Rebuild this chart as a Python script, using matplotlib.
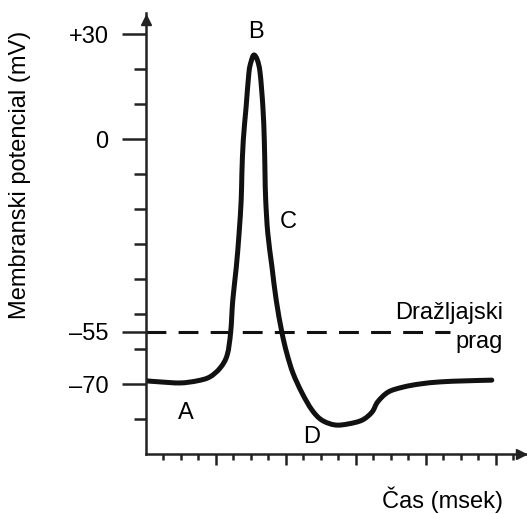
import matplotlib.pyplot as plt
import numpy as np
from matplotlib.path import Path
from matplotlib.patches import PathPatch

plt.rcParams['font.family'] = ['Liberation Sans', 'DejaVu Sans']

# ---- DATA ----
time_ms = [0.00, 0.20, 0.49, 0.73, 0.91, 1.06, 1.16, 1.21, 1.24, 1.29, 1.33, 1.36,
           1.37, 1.39, 1.43, 1.47, 1.50, 1.54, 1.59, 1.63, 1.67, 1.69, 1.70, 1.71,
           1.74, 1.80, 1.86, 1.94, 2.01, 2.10, 2.23, 2.37, 2.51, 2.70, 2.89, 3.09,
           3.23, 3.31, 3.46, 3.67, 3.91, 4.20, 4.56, 4.94]
potential_mv = [-69.1, -69.4, -69.7, -69.1, -68.0, -65.4, -61.7, -55.1, -46.0, -36.6,
                -26.9, -17.4, -9.7, -0.3, 9.1, 18.9, 22.0, 24.0, 22.6, 18.9, 9.1, -0.3,
                -9.7, -17.4, -26.9, -36.6, -46.0, -55.1, -61.1, -66.9, -72.6, -77.4,
                -80.3, -81.7, -81.4, -80.3, -78.0, -75.1, -72.3, -70.9, -70.0, -69.4,
                -69.1, -68.9]
threshold = -55
major_y = [30, 0, -55, -70]
major_y_labels = ['+30', '0', '\u201355', '\u201370']
minor_y = [20, 10, -10, -20, -30, -40, -50, -60, -80]
major_x = [1, 2, 3, 4, 5]
minor_x = [i * 0.25 for i in range(1, 22)]
phase_labels = ['A', 'B', 'C', 'D']
phase_pos = [(0.57, -78.3), (1.57, 30.6), (2.03, -23.7), (2.36, -85.1)]

XMAX, YMIN, YMAX = 5.443, -90, 36

fig = plt.figure(figsize=(5.27, 5.14), dpi=100)
ax = fig.add_axes([146 / 527, 60 / 514, 381 / 527, 441 / 514])
ax.set_xlim(0, XMAX)
ax.set_ylim(YMIN, YMAX)

for s in ['top', 'right']:
    ax.spines[s].set_visible(False)
for s in ['left', 'bottom']:
    ax.spines[s].set_linewidth(1.8)
    ax.spines[s].set_color('#222222')

# arrow heads
ax.plot(0, YMAX - 2.0, '^', color='#222222', ms=7, clip_on=False)
ax.plot(XMAX - 0.09, YMIN, '>', color='#222222', ms=7, clip_on=False)

# ticks
ax.set_yticks(major_y)
ax.set_yticklabels(major_y_labels, fontsize=17)
ax.set_yticks(minor_y, minor=True)
ax.tick_params(axis='y', which='major', length=17, width=1.8, color='#222222', pad=10)
ax.tick_params(axis='y', which='minor', length=9, width=1.8, color='#222222')
ax.set_xticks(major_x)
ax.set_xticklabels([])
ax.set_xticks([m for m in minor_x if m not in major_x], minor=True)
ax.tick_params(axis='x', which='major', length=8, width=1.8, color='#222222')
ax.tick_params(axis='x', which='minor', length=4, width=1.8, color='#222222')

# threshold
ax.plot([0, 4.35], [threshold, threshold], color='#111111', lw=2.2,
        linestyle=(0, (6.5, 4.0)))

# action potential, drawn as a smooth curve through the read-off points
pts = np.column_stack([time_ms, potential_mv])
verts = [pts[0]]
codes = [Path.MOVETO]
for i in range(len(pts) - 1):
    p0 = pts[max(i - 1, 0)]
    p1 = pts[i]
    p2 = pts[i + 1]
    p3 = pts[min(i + 2, len(pts) - 1)]
    verts += [p1 + (p2 - p0) / 6, p2 - (p3 - p1) / 6, p2]
    codes += [Path.CURVE4] * 3
ax.add_patch(PathPatch(Path(verts, codes), fill=False, edgecolor='#111111',
                       lw=3.6, capstyle='round', joinstyle='round'))

for lab, (x, y) in zip(phase_labels, phase_pos):
    ax.text(x, y, lab, fontsize=17, ha='center', va='center')

ax.text(5.1, -49.7, 'Dražljajski', fontsize=17, ha='right', va='center')
ax.text(5.1, -58.0, 'prag', fontsize=17, ha='right', va='center')
ax.text(5.1, -103, 'Čas (msek)', fontsize=17, ha='right', va='center', clip_on=False)

fig.text(20 / 527, 1 - 175 / 514, 'Membranski potencial (mV)', fontsize=17,
         rotation=90, ha='center', va='center')

fig.savefig('out.png', dpi=100)
